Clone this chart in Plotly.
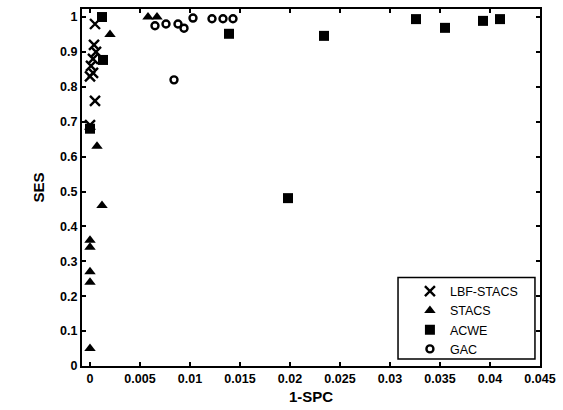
import plotly.graph_objects as go

lbf_x = [0.0005, 0.0004, 0.0006, 0.0003, 0.0001, 0.0003, 0.0000, 0.0005, 0.0000]
lbf_y = [0.98, 0.92, 0.90, 0.88, 0.86, 0.84, 0.83, 0.76, 0.69]

stacs_x = [0.0058, 0.0067, 0.0020, 0.0007, 0.0012, 0.0000, 0.0000, 0.0000, 0.0000, 0.0000]
stacs_y = [1.00, 1.00, 0.95, 0.63, 0.46, 0.36, 0.34, 0.27, 0.24, 0.05]

acwe_x = [0.0012, 0.0013, 0.0000, 0.0139, 0.0234, 0.0198, 0.0326, 0.0355, 0.0393, 0.0410]
acwe_y = [1.00, 0.877, 0.68, 0.952, 0.946, 0.481, 0.994, 0.969, 0.989, 0.994]

gac_x = [0.0065, 0.0076, 0.0088, 0.0094, 0.0103, 0.0122, 0.0133, 0.0143, 0.0084]
gac_y = [0.975, 0.98, 0.98, 0.968, 0.997, 0.995, 0.995, 0.995, 0.82]

x_ticks = [0, 0.005, 0.01, 0.015, 0.02, 0.025, 0.03, 0.035, 0.04, 0.045]
x_labels = ["0", "0.005", "0.01", "0.015", "0.02", "0.025", "0.03", "0.035", "0.04", "0.045"]
y_ticks = [0, 0.1, 0.2, 0.3, 0.4, 0.5, 0.6, 0.7, 0.8, 0.9, 1.0]
y_labels = ["0", "0.1", "0.2", "0.3", "0.4", "0.5", "0.6", "0.7", "0.8", "0.9", "1"]

FONT = "Liberation Sans"

fig = go.Figure()
fig.add_trace(go.Scatter(x=lbf_x, y=lbf_y, mode="markers", name="LBF-STACS",
                         marker=dict(symbol="x-thin", size=10, color="black",
                                     line=dict(width=2.4, color="black"))))
fig.add_trace(go.Scatter(x=stacs_x, y=stacs_y, mode="markers", name="STACS",
                         marker=dict(symbol="triangle-up", size=10, color="black")))
fig.add_trace(go.Scatter(x=acwe_x, y=acwe_y, mode="markers", name="ACWE",
                         marker=dict(symbol="square", size=10, color="black")))
fig.add_trace(go.Scatter(x=gac_x, y=gac_y, mode="markers", name="GAC",
                         marker=dict(symbol="circle-open", size=7, color="black",
                                     line=dict(width=2.4, color="black"))))

axis_common = dict(showline=True, linecolor="black", linewidth=2, mirror="allticks",
                   ticks="inside", ticklen=4, tickwidth=1.5, tickcolor="black",
                   showgrid=False, zeroline=False,
                   tickfont=dict(family=FONT, size=12.5, color="black", weight="bold"))

fig.update_xaxes(range=[-0.0008, 0.045], tickvals=x_ticks, ticktext=x_labels,
                 title=dict(text="<b>1-SPC</b>", font=dict(family=FONT, size=15, color="black"),
                            standoff=6),
                 **axis_common)
fig.update_yaxes(range=[0, 1.023], tickvals=y_ticks, ticktext=y_labels,
                 title=dict(text="<b>SES</b>", font=dict(family=FONT, size=15, color="black"),
                            standoff=12),
                 **axis_common)

# legend frame
fig.add_shape(type="rect", xref="paper", yref="paper",
              x0=0.690, x1=0.989, y0=0.0195, y1=0.248,
              line=dict(color="black", width=1.5), fillcolor="white", layer="above")

fig.update_layout(
    width=563, height=410,
    margin=dict(l=82, r=23, t=7, b=44),
    plot_bgcolor="white", paper_bgcolor="white",
    legend=dict(x=0.716, y=0.2507, xanchor="left", yanchor="top",
                borderwidth=0, bgcolor="rgba(0,0,0,0)",
                font=dict(family=FONT, size=12.5, color="black"),
                itemwidth=30, tracegroupgap=0),
)

fig.write_html("out.html")
